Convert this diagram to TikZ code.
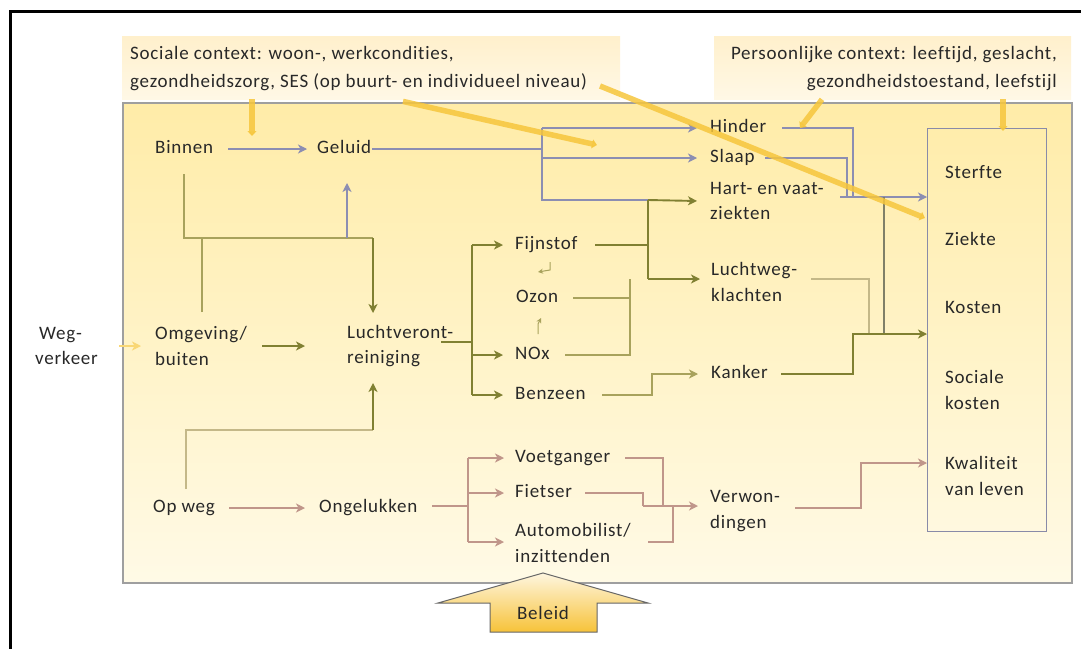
\documentclass[tikz,border=0pt]{standalone}
\usepackage{fontspec}
\setmainfont{Carlito}[LetterSpace=4.0,Ligatures=NoCommon]
\usetikzlibrary{arrows.meta,calc}

\definecolor{txt}{RGB}{40,40,40}
\definecolor{slate}{RGB}{140,142,178}
\definecolor{olive}{RGB}{128,128,50}
\definecolor{lightolive}{RGB}{168,162,92}
\definecolor{khaki}{RGB}{196,184,136}
\definecolor{rose}{RGB}{192,150,138}
\definecolor{amber}{RGB}{246,198,60}
\definecolor{boxtop}{RGB}{255,236,168}
\definecolor{boxbot}{RGB}{255,250,230}
\definecolor{calltop}{RGB}{255,240,204}
\definecolor{callbot}{RGB}{255,248,230}

\begin{document}
\begin{tikzpicture}[x=1pt,y=-1pt,
  font=\fontsize{19}{25.5}\selectfont,
  lbl/.style={anchor=west,align=left,text=txt,inner sep=0pt},
  lbl1/.style={lbl,text height=13pt,text depth=4pt},
  con/.style={line width=1.3pt},
  sl/.style={con,draw=slate},
  ol/.style={con,draw=olive,line width=1.9pt},
  lo/.style={con,draw=lightolive},
  kh/.style={con,draw=khaki},
  rs/.style={con,draw=rose},
  arr/.style={-{Stealth[length=9pt,width=9pt,inset=2.5pt]}},
  sarr/.style={-{Stealth[length=5pt,width=5pt,inset=1.5pt]}},
  yel/.style={draw=amber,opacity=0.85,line width=5.5pt,-{Triangle[length=5pt,width=9pt]}},
  callbox/.style={inner sep=0pt,top color=calltop,bottom color=callbot,draw=none},
]
\useasboundingbox (0,0) rectangle (1081,648);
\fill[white] (0,0) rectangle (1081,648);

% outer frame
\draw[line width=2.6pt] (10.5,660) -- (10.5,11.5) -- (1090,11.5);

% main panel
\node[anchor=north west,minimum width=949pt,minimum height=480pt,inner sep=0pt,
      top color=boxtop,bottom color=boxbot,draw=gray!75,line width=1.6pt] (panel) at (122,102) {};

% context callouts
\node[callbox,anchor=north west,minimum width=498pt,minimum height=63pt] (soc) at (122,36) {};
\node[lbl,font=\fontsize{19}{28}\selectfont] (soctxt) at (130,69)
  {Sociale context: woon-, werkcondities,\\gezondheidszorg, SES (op buurt- en individueel niveau)};
\node[callbox,anchor=north west,minimum width=357pt,minimum height=63pt] (pers) at (714,36) {};
\node[anchor=east,align=right,text=txt,inner sep=0pt,font=\fontsize{19}{28}\selectfont] (perstxt) at (1057,69)
  {Persoonlijke context: leeftijd, geslacht,\\gezondheidstoestand, leefstijl};

% outcome box
\node[anchor=north west,minimum width=119pt,minimum height=403pt,inner sep=0pt,
      draw=slate!80!gray,line width=1.2pt] (uit) at (927,128) {};
\node[lbl1] (sterfte) at (945,174) {Sterfte};
\node[lbl1] (ziekte) at (945,241) {Ziekte};
\node[lbl1] (kosten) at (945,309) {Kosten};
\node[lbl] (sockost) at (945,390) {Sociale\\kosten};
\node[lbl] (kwal) at (945,476) {Kwaliteit\\van leven};

% labels
\node[lbl] (weg) at (35,346) {\hspace*{4pt}Weg-\\verkeer};
\node[lbl1] (binnen) at (155,149) {Binnen};
\node[lbl1] (geluid) at (317,149) {Geluid};
\node[lbl] (omg) at (155,346) {Omgeving/\\buiten};
\node[lbl] (lucht) at (347,346) {Luchtveront-\\reiniging};
\node[lbl1] (opweg) at (153,508) {Op weg};
\node[lbl1] (ongel) at (319,508) {Ongelukken};
\node[lbl1] (hinder) at (710,128) {Hinder};
\node[lbl1] (slaap) at (710,158) {Slaap};
\node[lbl] (hart) at (710,201) {Hart- en vaat-\\ziekten};
\node[lbl1] (fijn) at (515,245) {Fijnstof};
\node[lbl1] (ozon) at (516,298) {Ozon};
\node[lbl1] (nox) at (515,355) {NOx};
\node[lbl1] (benz) at (515,395) {Benzeen};
\node[lbl] (luchtweg) at (711,282) {Luchtweg-\\klachten};
\node[lbl1] (kanker) at (711,374) {Kanker};
\node[lbl1] (voet) at (515,458) {Voetganger};
\node[lbl1] (fiets) at (515,493) {Fietser};
\node[lbl] (auto) at (515,543) {Automobilist/\\inzittenden};
\node[lbl] (verw) at (710,511) {Verwon-\\dingen};

% noise chain
\draw[sl,arr] (228,0 |- binnen.east) -- (307,0 |- geluid.west);
\coordinate (gj) at (542,149);
\draw[sl] (372,0 |- geluid.east) -- (gj);
\draw[sl] (542,128) -- (542,200) -- (648,200);
\draw[sl,arr] (542,0 |- hinder.west) -- (697,0 |- hinder.west);
\draw[sl,arr] (542,0 |- slaap.west) -- (697,0 |- slaap.west);
\draw[sl] (782,0 |- hinder.east) -| (853,197);
\draw[sl] (765,0 |- slaap.east) -| (847,197);
\draw[sl,arr] (840,197) -- (uit.west |- 0,197);
\draw[con,draw=gray!70!olive] (884,197) -- (884,334);

% exposure routes
\coordinate (binnenvoet) at (184,174);
\coordinate (omgtop) at (202,312);
\coordinate (geluidvoet) at (347,183);
\coordinate (luchttop) at (373,313);
\coordinate (luchtvoet) at (373,383);
\draw[lo] (binnenvoet) -- (184,238) -- (373,238);
\draw[lo] (omgtop) -- (202,238);
\draw[sl,arr] (347,238) -- (geluidvoet);
\draw[ol,arr,line width=1.3pt] (373,238) -- (luchttop);
\draw[kh] (186,489) -- (186,430) -- (373,430);
\draw[ol,arr,line width=1.3pt] (373,430) -- (luchtvoet);
\draw[con,draw=amber!70,arr] (119,346) -- (141,0 |- omg.west);
\draw[ol,arr,line width=1.4pt] (262,346) -- (305,0 |- lucht.west);

% air pollution
\draw[ol] (441,342) -- (472,342);
\draw[ol] (472,245) -- (472,395);
\draw[ol,arr] (472,245) -- (503,0 |- fijn.west);
\draw[ol,arr] (472,355) -- (503,0 |- nox.west);
\draw[ol,arr] (472,395) -- (503,0 |- benz.west);
\draw[lo,sarr,line width=1pt] (550,262) -- (550,270) -- (538,272);
\draw[lo,sarr,line width=1pt] (538,334) -- (538,324) -- (541,318);
\draw[ol] (595,0 |- fijn.east) -- (648,245);
\draw[ol] (648,200) -- (648,279);
\draw[ol,arr] (648,200) -- (697,0 |- hart.west);
\draw[ol,arr] (648,279) -- (700,279);
\draw[lo] (573,0 |- ozon.east) -- (630,298);
\draw[lo] (565,0 |- nox.east) -- (630,355) -- (630,279);
\draw[lo,arr] (602,0 |- benz.east) -- (652,395) -- (652,374) -- (698,0 |- kanker.west);
\draw[kh] (811,279) -- (869,279) -- (869,334);
\draw[ol,arr,line width=1.5pt] (781,0 |- kanker.east) -- (853,374) -- (853,334) -- (uit.west |- 0,334);

% accidents
\draw[rs,arr] (229,0 |- opweg.east) -- (305,0 |- ongel.west);
\draw[rs,line width=1.9pt] (432,506) -- (468,506);
\draw[rs] (468,458) -- (468,542);
\draw[rs,arr] (468,458) -- (504,0 |- voet.west);
\draw[rs,arr] (468,493) -- (504,0 |- fiets.west);
\draw[rs,arr] (468,542) -- (504,542);
\draw[rs] (625,0 |- voet.east) -- (663,458) -- (663,506);
\draw[rs] (585,0 |- fiets.east) -- (643,493) -- (643,506);
\draw[rs] (648,542) -- (673,542) -- (673,506);
\draw[rs,arr,line width=1.9pt] (643,506) -- (698,506);
\draw[rs,arr] (795,508) -- (861,508) -- (861,463) -- (uit.west |- 0,463);

% context influences
\draw[yel] ($(soc.south west)+(130,0)$) -- (252,136);
\draw[yel] ($(soc.south west)+(281,2)$) -- (597,145);
\draw[yel] (600,86) -- (925,218);
\draw[yel] ($(pers.south west)+(108,0)$) -- (800,128);
\draw[yel] ($(pers.south west)+(289,0)$) -- (1003,131);

% policy arrow
\path[draw=gray!80!black,line width=1pt,top color=calltop!80!amber!40,bottom color=amber!95!orange]
  (543,573) -- (648,603) -- (597,603) -- (597,632) -- (490,632) -- (490,603) -- (438,603) -- cycle;
\node[text=txt,inner sep=0pt] (beleid) at (543,613) {Beleid};
\end{tikzpicture}
\end{document}
